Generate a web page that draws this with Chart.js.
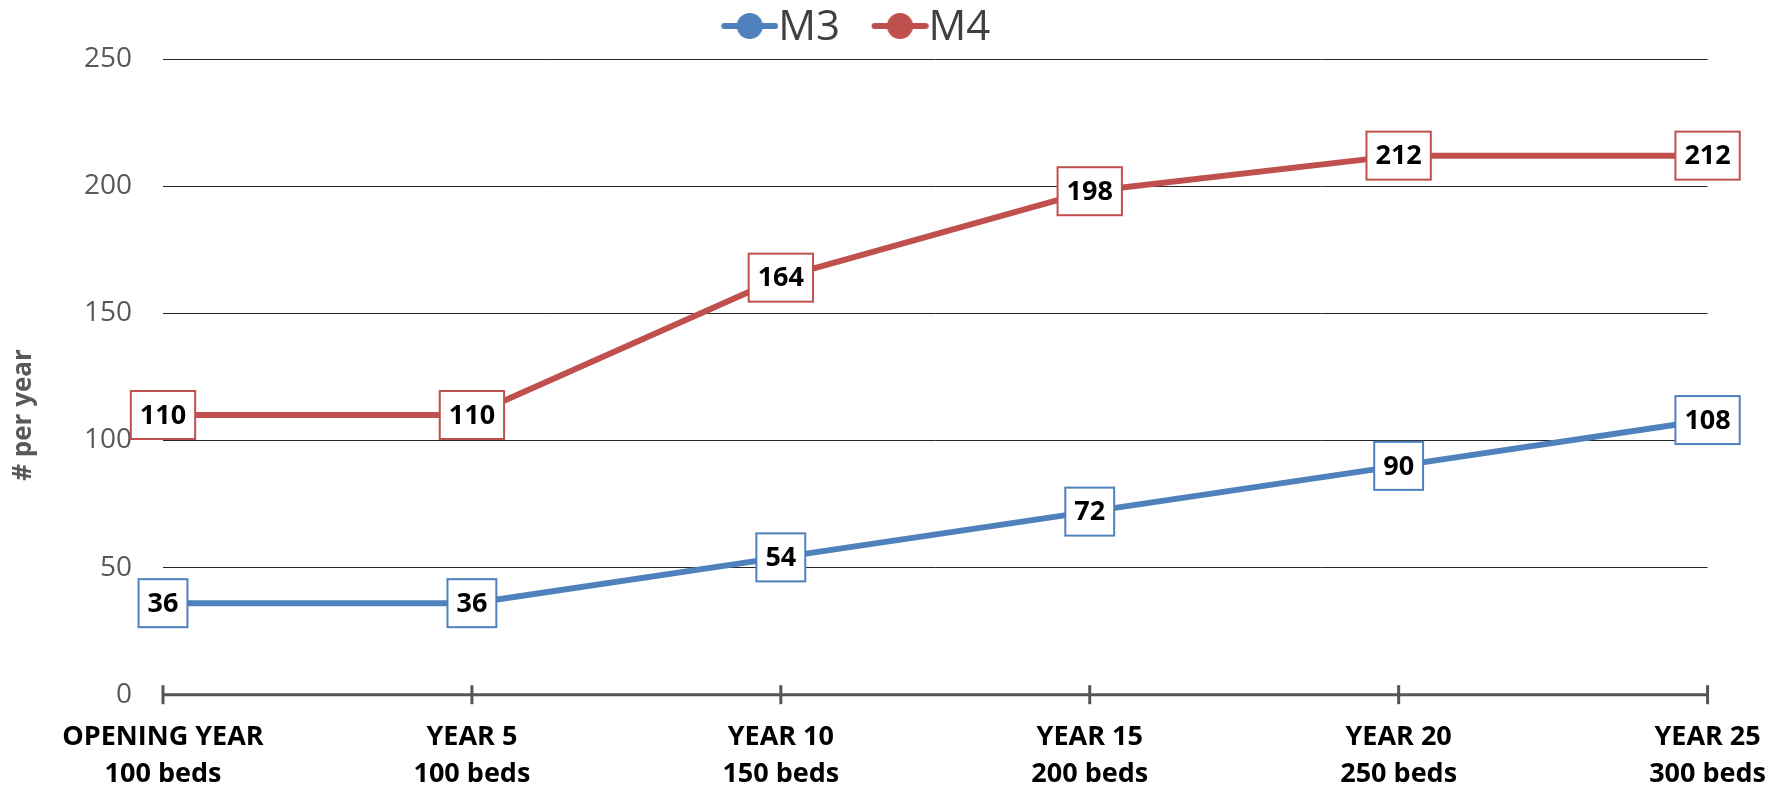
<!DOCTYPE html>
<html>
<head>
<meta charset="utf-8">
<script src="https://cdn.jsdelivr.net/npm/chart.js@4.4.1/dist/chart.umd.min.js"></script>
<style>
  html, body { margin: 0; padding: 0; background: #ffffff; }
  #wrap { width: 1766px; height: 786px; position: relative; }
</style>
</head>
<body>
<div id="wrap"><canvas id="chart"></canvas></div>
<script>
// ---- data ----
const periodLabels = ['OPENING YEAR', 'YEAR 5', 'YEAR 10', 'YEAR 15', 'YEAR 20', 'YEAR 25'];
const bedLabels = ['100 beds', '100 beds', '150 beds', '200 beds', '250 beds', '300 beds'];
const seriesNames = ['M3', 'M4'];
const m3Values = [36, 36, 54, 72, 90, 108];
const m4Values = [110, 110, 164, 198, 212, 212];
const yTicks = [0, 50, 100, 150, 200, 250];
const yTitle = '# per year';

const BLUE = '#4F81BD';
const RED = '#C0504D';
const FONT = '"Open Sans", "Liberation Sans", sans-serif';

// legend marker: line with a circle, drawn into a small canvas used as point style
function makeMarker(color) {
  const c = document.createElement('canvas');
  c.width = 81; c.height = 40;
  const g = c.getContext('2d');
  const left = 23.75, right = 80.75, cy = 18;
  g.strokeStyle = color;
  g.lineWidth = 6;
  g.lineCap = 'round';
  g.beginPath();
  g.moveTo(left + 3, cy);
  g.lineTo(right - 3, cy);
  g.stroke();
  g.fillStyle = color;
  g.beginPath();
  g.arc((left + right) / 2, cy, 13, 0, Math.PI * 2);
  g.fill();
  return c;
}

const categories = periodLabels.map((p, i) => [p, bedLabels[i]]);

const dataLabelPlugin = {
  id: 'boxLabels',
  afterDatasetsDraw(chart) {
    const ctx = chart.ctx;
    ctx.save();
    ctx.font = 'bold 27px ' + FONT;
    ctx.textAlign = 'center';
    ctx.textBaseline = 'middle';
    chart.data.datasets.forEach((ds, di) => {
      const meta = chart.getDatasetMeta(di);
      meta.data.forEach((pt, i) => {
        const txt = String(ds.data[i]);
        const w = ctx.measureText(txt).width + 18;
        const h = 48;
        const x = pt.x, y = pt.y;
        ctx.fillStyle = '#ffffff';
        ctx.fillRect(x - w / 2, y - h / 2, w, h);
        ctx.lineWidth = 2;
        ctx.strokeStyle = ds.borderColor;
        ctx.strokeRect(x - w / 2, y - h / 2, w, h);
        ctx.fillStyle = '#000000';
        ctx.fillText(txt, x, y + 1);
      });
    });
    ctx.restore();
  }
};

const axisPlugin = {
  id: 'crossAxis',
  beforeDatasetsDraw(chart) {
    const ctx = chart.ctx;
    const xs = chart.scales.x;
    const bottom = chart.chartArea.bottom;
    ctx.save();
    ctx.strokeStyle = '#555555';
    ctx.lineWidth = 3;
    ctx.beginPath();
    ctx.moveTo(chart.chartArea.left, bottom);
    ctx.lineTo(chart.chartArea.right, bottom);
    ctx.stroke();
    for (let i = 0; i < xs.ticks.length; i++) {
      const px = xs.getPixelForTick(i);
      ctx.beginPath();
      ctx.moveTo(px, bottom - 9.5);
      ctx.lineTo(px, bottom + 9.5);
      ctx.stroke();
    }
    ctx.restore();
  }
};

const yTitlePlugin = {
  id: 'yTitle',
  afterDraw(chart) {
    const ctx = chart.ctx;
    ctx.save();
    ctx.translate(23.5, 415);
    ctx.rotate(-Math.PI / 2);
    ctx.font = 'bold 26px ' + FONT;
    ctx.fillStyle = '#595959';
    ctx.textAlign = 'center';
    ctx.textBaseline = 'middle';
    ctx.fillText(yTitle, 0, 0);
    ctx.restore();
  }
};

new Chart(document.getElementById('chart'), {
  type: 'line',
  data: {
    labels: categories,
    datasets: [
      {
        label: seriesNames[0],
        data: m3Values,
        borderColor: BLUE,
        backgroundColor: BLUE,
        borderWidth: 6,
        pointRadius: 0,
        pointHoverRadius: 0,
        pointStyle: makeMarker(BLUE),
        tension: 0,
        borderJoinStyle: 'round',
        borderCapStyle: 'round',
        fill: false
      },
      {
        label: seriesNames[1],
        data: m4Values,
        borderColor: RED,
        backgroundColor: RED,
        borderWidth: 6,
        pointRadius: 0,
        pointHoverRadius: 0,
        pointStyle: makeMarker(RED),
        tension: 0,
        borderJoinStyle: 'round',
        borderCapStyle: 'round',
        fill: false
      }
    ]
  },
  options: {
    responsive: true,
    maintainAspectRatio: false,
    animation: false,
    events: [],
    layout: { padding: { left: 0, right: 57, top: -22, bottom: 0 } },
    plugins: {
      tooltip: { enabled: false },
      legend: {
        display: true,
        position: 'top',
        align: 'center',
        labels: {
          usePointStyle: true,
          pointStyleWidth: 38.5,
          padding: 29,
          color: '#404040',
          font: { family: FONT, size: 42 }
        }
      }
    },
    scales: {
      x: {
        type: 'category',
        offset: false,
        grid: { display: false, drawTicks: true, tickLength: 24 },
        border: { display: false },
        ticks: {
          padding: 0,
          color: '#000000',
          maxRotation: 0,
          autoSkip: false,
          font: { family: FONT, size: 27, weight: 'bold', lineHeight: 1.37 }
        },
        afterFit(scale) { scale.height = 91.3; }
      },
      y: {
        min: 0,
        max: 250,
        afterBuildTicks(scale) { scale.ticks = yTicks.map(v => ({ value: v })); },
        grid: { color: '#262626', lineWidth: 1, drawTicks: false },
        border: { display: false },
        ticks: {
          padding: 31,
          color: '#595959',
          font: { family: FONT, size: 28 }
        },
        afterFit(scale) { scale.width = 163; }
      }
    }
  },
  plugins: [axisPlugin, dataLabelPlugin, yTitlePlugin]
});
</script>
</body>
</html>
